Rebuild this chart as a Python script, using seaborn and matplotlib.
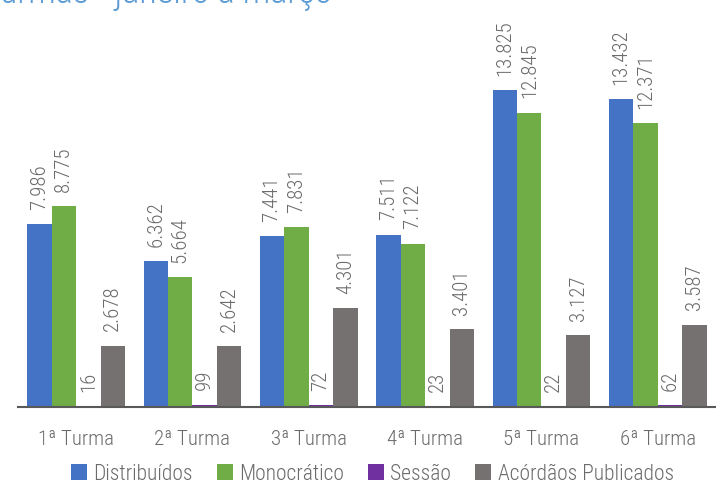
import numpy as np
import pandas as pd
import matplotlib
matplotlib.use('Agg')
import matplotlib.pyplot as plt
from matplotlib import font_manager
import seaborn as sns

# ── Data ──────────────────────────────────────────────────────────────────────
turmas = ['1ª Turma', '2ª Turma', '3ª Turma', '4ª Turma', '5ª Turma', '6ª Turma']
series = ['Distribuídos', 'Monocrático', 'Sessão', 'Acórdãos Publicados']

distribuidos = [7986, 6362, 7441, 7511, 13825, 13432]
monocratico  = [8775, 5664, 7831, 7122, 12845, 12371]
sessao       = [16, 99, 72, 23, 22, 62]
acordaos     = [2678, 2642, 4301, 3401, 3127, 3587]

colors = ['#4472C4', '#70AD47', '#7030A0', '#767171']
text_gray = '#6b6b6b'

rows = []
for name, vals in zip(series, [distribuidos, monocratico, sessao, acordaos]):
    for t, v in zip(turmas, vals):
        rows.append({'Turma': t, 'Tipo': name, 'Valor': v})
df = pd.DataFrame(rows)

# pick a narrow font if one is around
installed = {f.name for f in font_manager.fontManager.ttflist}
narrow = [f for f in ['Liberation Sans Narrow', 'Roboto Condensed',
                      'DejaVu Sans Condensed', 'Open Sans Condensed', 'Roboto']
          if f in installed]

# ── Plot ──────────────────────────────────────────────────────────────────────
sns.set_style('white')
plt.rcParams['font.family'] = narrow[:1] + ['DejaVu Sans']
plt.rcParams['font.weight'] = 'light'

fig = plt.figure(figsize=(7.16, 4.85), dpi=100)
ax = fig.add_axes([0.025, 0.159, 0.975, 0.841])

sns.barplot(data=df, x='Turma', y='Valor', hue='Tipo', hue_order=series,
            palette=colors, saturation=1, width=0.84, linewidth=0, ax=ax)

for cont in ax.containers:
    ax.bar_label(cont, labels=[f'{int(v):,}'.replace(',', '.') for v in cont.datavalues],
                 rotation=90, padding=11, fontsize=15, color=text_gray)

ax.set_ylim(0, 17800)
ax.set_xlim(-0.5, 5.5)
ax.set_yticks([])
ax.set_xlabel('')
ax.set_ylabel('')
for s in ['top', 'right', 'left']:
    ax.spines[s].set_visible(False)
ax.spines['bottom'].set_color('#595959')
ax.spines['bottom'].set_linewidth(1.5)

ax.set_xticks(np.arange(-0.5, 6.0, 1.0), minor=True)
ax.tick_params(axis='x', which='minor', length=8, width=1.5, color='#595959', direction='out')
ax.tick_params(axis='x', which='major', length=0, pad=16, labelsize=15, labelcolor=text_gray)

handles, labels = ax.get_legend_handles_labels()
ax.legend_.remove()
fig.legend(handles, labels, loc='center', bbox_to_anchor=(0.52, 0.021), ncol=4,
           frameon=False, fontsize=15.5, handlelength=0.75, handleheight=0.75,
           handletextpad=0.3, columnspacing=1.1, labelcolor=text_gray)

# cropped title at the very top
fig.text(0.0, 0.994, 'urmas - janeiro a março', color='#5B9BD5', fontsize=26,
         ha='left', va='baseline')

fig.savefig('out.png', dpi=100)
